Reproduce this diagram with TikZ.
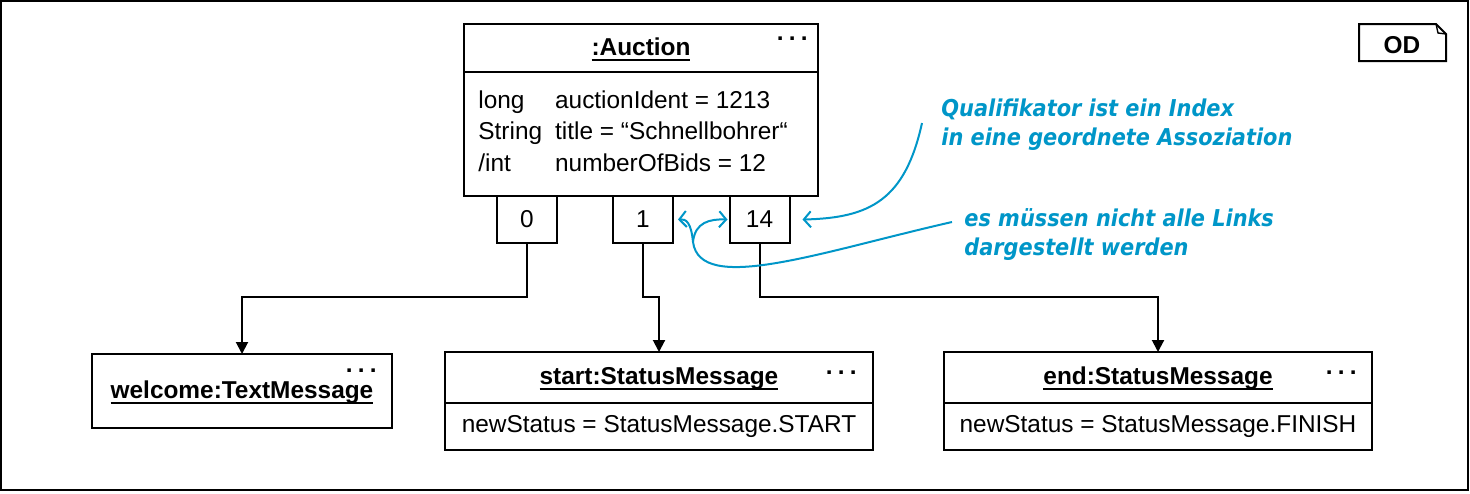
\documentclass[tikz,border=0pt]{standalone}
\usepackage{fontspec}
\setmainfont{Liberation Sans}
\newfontfamily\notefont{DejaVu Sans Condensed}
\usetikzlibrary{arrows.meta, positioning}
\definecolor{noteblue}{RGB}{0,150,200}
\newcommand{\objfont}{\fontsize{12.2}{15.75}\selectfont}
\newcommand{\moredots}{.\hspace{2.6pt}.\hspace{2.6pt}.}
% object names: underlined with a heavier rule
\newcommand{\objname}[1]{\setbox0\hbox{#1}\leavevmode\rlap{\rule[-2.8pt]{\wd0}{0.9pt}}\box0}

\begin{document}
\begin{tikzpicture}[
  x=0.5pt, y=-0.5pt,
  objhead/.style={rectangle, draw, line width=1pt, inner sep=0pt, outer sep=0pt, text height=7pt, text depth=0pt, font=\objfont\bfseries},
  objbody/.style={rectangle, draw, line width=1pt, inner sep=0pt, outer sep=0pt, font=\objfont},
  qualbox/.style={rectangle, draw, line width=1pt, inner sep=0pt, outer sep=0pt, minimum width=30pt, minimum height=23.5pt, font=\objfont, anchor=north},
  dotsmark/.style={inner sep=0pt, font=\objfont\bfseries, anchor=base east},
  note/.style={text=noteblue, inner sep=0pt, align=left, font=\notefont\bfseries\itshape\fontsize{11.6}{14.5}\selectfont},
  link/.style={-{Triangle[length=6pt,width=6pt]}, line width=1pt},
  noteline/.style={noteblue, line width=1pt},
  notearrow/.style={noteline, -{Straight Barb[length=3.5pt,width=8pt]}}
]
\useasboundingbox (0,0) rectangle (1470,493);
\draw[line width=1pt] (1,1) rectangle (1468,490);

% Diagram tag
\node[font=\objfont\bfseries] (odlabel) at (1402,45) {OD};
\draw[line width=1pt] (1359,24) -- (1436,24) -- (1446,34) -- (1446,61) -- (1359,61) -- cycle;
\draw[line width=0.7pt] (1436,24) -- (1438,33) -- (1446,34);

% Auction object with qualifiers
\node[objhead, minimum width=177pt, minimum height=24pt] (auction) at (641,48) {\objname{:Auction}};
\node[objbody, minimum width=177pt, minimum height=62pt, below=0pt of auction] (auctionAttr) {};
\node[dotsmark] at ([xshift=-5pt,yshift=-8pt]auction.north east) {\moredots};
\node[inner sep=0pt, anchor=base west, font=\objfont] (auctionVals) at (478,108)
  {\begin{tabular}[t]{@{}l@{\hspace{6.5pt}}l@{}}
   long & auctionIdent = 1213\\
   String & title = “Schnellbohrer“\\
   /int & numberOfBids = 12
   \end{tabular}};
\node[qualbox] (q0) at (527,196) {0};
\node[qualbox] (q1) at (643,196) {1};
\node[qualbox] (q14) at (759.5,196) {14};

% Linked message objects
\node[objhead, minimum width=150pt, minimum height=37pt] (welcome) at (242,391) {\objname{welcome:TextMessage}};
\node[dotsmark] at ([xshift=-7.5pt,yshift=-9pt]welcome.north east) {\moredots};

\node[objhead, minimum width=214pt, minimum height=25.5pt] (startMsg) at (659,377.5) {\objname{start:StatusMessage}};
\node[objbody, minimum width=214pt, minimum height=23.5pt, below=0pt of startMsg] (startAttr) {newStatus = StatusMessage.START};
\node[dotsmark] at ([xshift=-8pt,yshift=-11pt]startMsg.north east) {\moredots};

\node[objhead, minimum width=214pt, minimum height=25.5pt] (endMsg) at (1158,377.5) {\objname{end:StatusMessage}};
\node[objbody, minimum width=214pt, minimum height=23.5pt, below=0pt of endMsg] (endAttr) {newStatus = StatusMessage.FINISH};
\node[dotsmark] at ([xshift=-7.5pt,yshift=-11pt]endMsg.north east) {\moredots};

% Links
\coordinate (bendrow) at (0,297);
\draw[link] (q0.south) -- (q0.south |- bendrow) -| (welcome.north);
\draw[link] (q1.south) -- (q1.south |- bendrow) -| (startMsg.north);
\draw[link] (q14.south) -- (q14.south |- bendrow) -| (endMsg.north);

% Comments
\node[note, anchor=north west] (note1) at (941,98) {Qualifikator ist ein Index\\in eine geordnete Assoziation};
\node[note, anchor=north west] (note2) at (964,208) {es müssen nicht alle Links\\dargestellt werden};

\coordinate (n1start) at (922,123);
\coordinate (n2start) at (952,222);
\coordinate (fork) at (693,242);
\draw[notearrow] (n1start) .. controls (905,200) and (870,218) .. ([xshift=6.5pt]q14.east);
\draw[noteline] (n2start) .. controls (820,252) and (700,295) .. (fork);
\draw[notearrow] (fork) .. controls (691,222) and (686,219) .. ([xshift=2.5pt]q1.east);
\draw[notearrow] (fork) .. controls (695,222) and (710,219) .. ([xshift=-1pt]q14.west);

\end{tikzpicture}
\end{document}
